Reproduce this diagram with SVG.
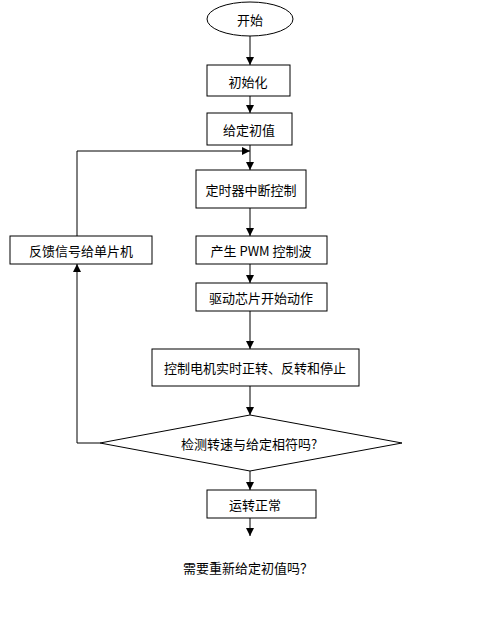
<svg xmlns="http://www.w3.org/2000/svg" width="500" height="641" viewBox="0 0 500 641">
<style>
.n{fill:#fff;stroke:#000;stroke-width:1}
.t{font-family:"Noto Sans CJK SC","Liberation Sans",sans-serif;font-size:13px;fill:#000;text-anchor:middle;dominant-baseline:central}
.c{fill:none;stroke:#000;stroke-width:1}
</style>
<defs>
<marker id="a" viewBox="0 0 8 8" refX="8" refY="4" markerWidth="8" markerHeight="8" markerUnits="userSpaceOnUse" orient="auto">
<path d="M0,0 L8,4 L0,8 Z" fill="#000"/>
</marker>
</defs>
<rect width="500" height="641" fill="#fff"/>
<g id="connectors">
<line class="c" x1="250" y1="36" x2="250" y2="65" marker-end="url(#a)"/>
<line class="c" x1="250" y1="96" x2="250" y2="113" marker-end="url(#a)"/>
<line class="c" x1="250" y1="145" x2="250" y2="170" marker-end="url(#a)"/>
<line class="c" x1="250" y1="208" x2="250" y2="236" marker-end="url(#a)"/>
<line class="c" x1="250" y1="264" x2="250" y2="283" marker-end="url(#a)"/>
<line class="c" x1="250" y1="311" x2="250" y2="349" marker-end="url(#a)"/>
<line class="c" x1="250" y1="386" x2="250" y2="415" marker-end="url(#a)"/>
<line class="c" x1="250" y1="471" x2="250" y2="490" marker-end="url(#a)"/>
<line class="c" x1="250" y1="518" x2="250" y2="536" marker-end="url(#a)"/>
<polyline class="c" points="100,443 77,443 77,264" marker-end="url(#a)"/>
<polyline class="c" points="77,236 77,151 250,151" marker-end="url(#a)"/>
</g>
<g id="start"><ellipse class="n" cx="250" cy="19" rx="43" ry="17"/><text class="t" x="250" y="19">开始</text></g>
<g id="init"><rect class="n" x="207" y="65" width="83" height="31"/><text class="t" x="248" y="81">初始化</text></g>
<g id="setval"><rect class="n" x="207" y="113" width="85" height="32"/><text class="t" x="249" y="129">给定初值</text></g>
<g id="timer"><rect class="n" x="196" y="170" width="110" height="38"/><text class="t" x="251" y="189">定时器中断控制</text></g>
<g id="pwm"><rect class="n" x="196" y="236" width="131" height="28"/><text class="t" x="261" y="250">产生 PWM 控制波</text></g>
<g id="feedback"><rect class="n" x="10" y="236" width="142" height="28"/><text class="t" x="81" y="250">反馈信号给单片机</text></g>
<g id="drive"><rect class="n" x="196" y="283" width="131" height="28"/><text class="t" x="261" y="297">驱动芯片开始动作</text></g>
<g id="motor"><rect class="n" x="152" y="349" width="207" height="37"/><text class="t" x="255" y="367">控制电机实时正转、反转和停止</text></g>
<g id="check"><polygon class="n" points="250,415 402,443 250,471 100,443"/><text class="t" x="249" y="443">检测转速与给定相符吗?</text></g>
<g id="normal"><rect class="n" x="207" y="490" width="109" height="28"/><text class="t" x="255" y="504">运转正常</text></g>
<g id="again"><text class="t" x="248" y="567">需要重新给定初值吗？</text></g>
</svg>
